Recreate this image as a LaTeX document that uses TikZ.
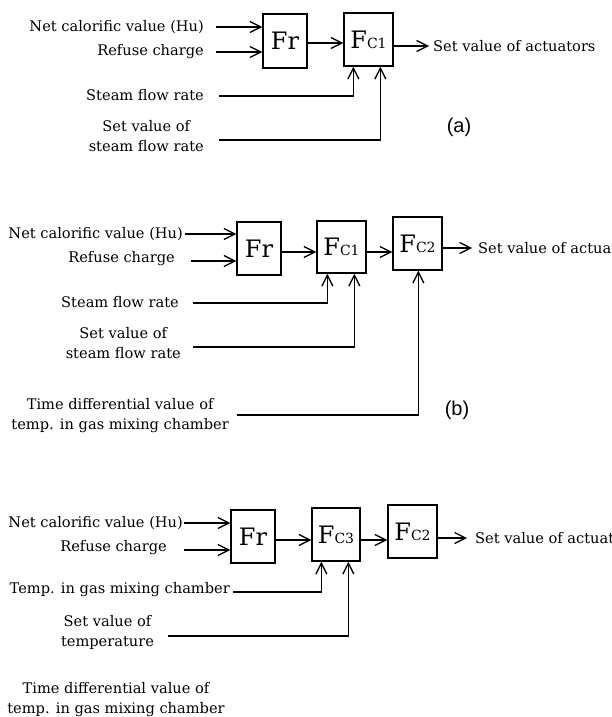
\documentclass[tikz,border=0pt]{standalone}
\usepackage{fontspec}
\setmainfont{DejaVu Serif}
\newfontfamily\labfont{Liberation Sans}
\usetikzlibrary{arrows.meta}
\tikzset{
  blk/.style={draw, line width=1.3pt, inner sep=0pt, font=\fontsize{24}{24}\selectfont},
  lbl/.style={inner sep=0pt, font=\fontsize{14.6}{20}\selectfont, align=center},
  arr/.style={line width=1.3pt, -{Straight Barb[length=11pt,width=11pt,line width=1.3pt]}},
  tag/.style={inner sep=0pt, font=\labfont\fontsize{20}{20}\selectfont},
}
\newcommand{\fsub}[1]{F{\fontsize{14}{14}\selectfont C#1}}
\begin{document}
\begin{tikzpicture}[x=1pt,y=-1pt]
\useasboundingbox (0,0) rectangle (611,717);
\clip (0,0) rectangle (611,717);
% ---------------- (a)
\node[blk, minimum width=44pt, minimum height=54pt] (fra) at (285,41) {Fr};
\node[blk, minimum width=49pt, minimum height=53pt] (fc1a) at (368.5,39.5) {\fsub{1}};
\node[lbl, anchor=east] (a1) at (204,27) {Net calorific value (Hu)};
\node[lbl, anchor=east] (a2) at (204,52) {Refuse charge};
\node[lbl, anchor=east] (a3) at (204,95) {Steam flow rate};
\node[lbl, anchor=east] (a4) at (204,136) {Set value of\\steam flow rate};
\node[lbl, anchor=west] (oa) at (433,46) {Set value of actuators};
\node[tag] (ta) at (459,127) {(a)};
\draw[arr] ([xshift=12pt]a1.east) -- (a1.east -| fra.west);
\draw[arr] ([xshift=12pt]a2.east) -- (a2.east -| fra.west);
\draw[arr] ([yshift=-2pt]fra.east) -- ([yshift=-2pt]fra.east -| fc1a.west);
\draw[arr] (oa.west -| fc1a.east) -- ([xshift=-4pt]oa.west);
\draw[arr] ([xshift=15pt,yshift=-1pt]a3.east) -| ([xshift=10pt]fc1a.south west);
\draw[arr] ([xshift=15pt,yshift=-4pt]a4.east) -| ([xshift=37pt]fc1a.south west);
% ---------------- (b)
\node[blk, minimum width=44pt, minimum height=53pt] (frb) at (259,248.5) {Fr};
\node[blk, minimum width=49pt, minimum height=52pt] (fc1b) at (341.5,247) {\fsub{1}};
\node[blk, minimum width=49pt, minimum height=53pt] (fc2b) at (417.5,243.5) {\fsub{2}};
\node[lbl, anchor=east] (b1) at (183,234) {Net calorific value (Hu)};
\node[lbl, anchor=east] (b2) at (175,259) {Refuse charge};
\node[lbl, anchor=east] (b3) at (179,302) {Steam flow rate};
\node[lbl, anchor=east] (b4) at (181,343) {Set value of\\steam flow rate};
\node[lbl, anchor=east] (b5) at (229,416) {Time differential value of\\temp. in gas mixing chamber};
\node[lbl, anchor=west] (ob) at (478,248) {Set value of actuators};
\node[tag] (tb) at (457,410) {(b)};
\draw[arr] ([xshift=2pt]b1.east) -- (b1.east -| frb.west);
\draw[arr] ([xshift=16pt,yshift=-2pt]b2.east) -- ([yshift=-2pt]b2.east -| frb.west);
\draw[arr] ([yshift=-3.5pt]frb.east) -- ([yshift=-3.5pt]frb.east -| fc1b.west);
\draw[arr] ([yshift=-5pt]fc1b.east) -- ([yshift=-5pt]fc1b.east -| fc2b.west);
\draw[arr] (ob.west -| fc2b.east) -- ([xshift=-6pt]ob.west);
\draw[arr] ([xshift=14pt,yshift=-1pt]b3.east) -| ([xshift=11pt]fc1b.south west);
\draw[arr] ([xshift=12pt,yshift=-4pt]b4.east) -| ([xshift=38pt]fc1b.south west);
\draw[arr] ([xshift=8pt,yshift=1pt]b5.east) -| ([xshift=26pt]fc2b.south west);
% ---------------- (c)
\node[blk, minimum width=44pt, minimum height=53pt] (frc) at (253,536.5) {Fr};
\node[blk, minimum width=48pt, minimum height=53pt] (fc3c) at (336,534.5) {\fsub{3}};
\node[blk, minimum width=49pt, minimum height=53pt] (fc2c) at (412.5,531.5) {\fsub{2}};
\node[lbl, anchor=east] (c1) at (183,523) {Net calorific value (Hu)};
\node[lbl, anchor=east] (c2) at (167,548) {Refuse charge};
\node[lbl, anchor=east] (c3) at (230,590) {Temp. in gas mixing chamber};
\node[lbl] (c4) at (107.5,632.5) {Set value of\\temperature};
\node[lbl] (c5) at (116,700) {Time differential value of\\temp. in gas mixing chamber};
\node[lbl, anchor=west] (oc) at (475,538) {Set value of actuators};
\draw[arr] ([xshift=1pt]c1.east) -- (c1.east -| frc.west);
\draw[arr] ([xshift=17pt,yshift=-2pt]c2.east) -- ([yshift=-2pt]c2.east -| frc.west);
\draw[arr] ([yshift=-3.5pt]frc.east) -- ([yshift=-3.5pt]frc.east -| fc3c.west);
\draw[arr] ([yshift=-5.5pt]fc3c.east) -- ([yshift=-5.5pt]fc3c.east -| fc2c.west);
\draw[arr] (oc.west -| fc2c.east) -- ([xshift=-8pt]oc.west);
\draw[arr] ([xshift=3pt,yshift=-2pt]c3.east) -| ([xshift=10pt]fc3c.south west);
\draw[arr] ([xshift=60pt,yshift=-3.5pt]c4.center) -| ([xshift=37pt]fc3c.south west);
\end{tikzpicture}
\end{document}
